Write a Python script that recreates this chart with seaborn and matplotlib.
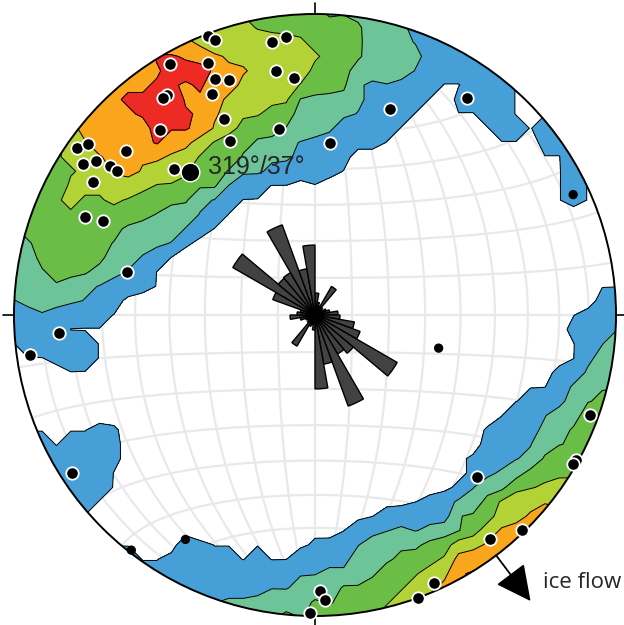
import numpy as np
import matplotlib
matplotlib.use('Agg')
import matplotlib.pyplot as plt
import seaborn as sns
from matplotlib.patches import Circle


# poles (trend / plunge, degrees), lower hemisphere
pole_trend = [339, 340, 351, 354, 330, 337, 351, 355, 337, 340, 326, 325, 335, 335, 349, 320, 334, 305, 307, 311,
              303, 305, 306, 306, 316, 301, 293, 294, 283, 20, 35, 5, 266, 262, 237, 179, 178, 181, 110, 119,
              120, 135, 136, 142, 156, 160]
pole_plunge = [1, 3, 9, 8, 4, 10, 19, 22, 16, 18, 13, 13, 20, 29, 37, 21, 36, 4, 6, 18,
               9, 12, 17, 20, 33, 15, 18, 24, 36, 28, 13, 42, 16, 5, 4, 9, 6, 1, 3, 1,
               1, 25, 1, 6, 3, 0]
small_trend = [65, 105, 210, 218]
small_plunge = [6, 55, 15, 1]

mean_trend, mean_plunge = 319, 37
ice_flow = 143

# rose diagram, 10 degree bins
rose_az = np.arange(5, 360, 10)
rose_counts = [2.2, 1.3, 1.0, 3.3, 1.0, 0.8, 1.2, 1.5, 2.3, 2.5, 4.0, 4.8, 9.5, 5.0, 4.5, 9.7, 5.0, 7.4,
               1.5, 1.0, 1.2, 3.6, 1.0, 0.8, 1.0, 1.5, 2.5, 1.8, 1.5, 4.5, 9.5, 4.8, 4.9, 9.6, 4.7, 7.0]

# kamb contours, 2 sigma interval
levels = [2, 4, 6, 8, 10, 12]
fill_colors = ['#479fd8', '#6dc499', '#6abd45', '#b2d235', '#f9a61c', '#ee2a24']

CX, CY, R = 315, 315, 301   # pixel centre / radius of the net


def project(t, p):
    r = np.sqrt(2) * np.sin(np.radians(90 - np.asarray(p, float)) / 2)
    t = np.radians(t)
    return r * np.sin(t), r * np.cos(t)


def unproject(x, y):
    r = np.hypot(x, y)
    theta = 2 * np.degrees(np.arcsin(np.clip(r / np.sqrt(2), 0, 1)))
    return np.degrees(np.arctan2(x, y)) % 360, 90 - theta


def to_vec(t, p):
    t = np.radians(t)
    p = np.radians(p)
    return np.stack([np.cos(p) * np.sin(t), np.cos(p) * np.cos(t), np.sin(p)], -1)


def kamb(t, p, gt, gp, sigma=3):
    cos = np.abs(to_vec(gt, gp) @ to_vec(t, p).T)
    n = len(t)
    rad = 1 - sigma ** 2 / (n + sigma ** 2)
    units = np.sqrt(n * rad * (1 - rad))
    return (cos >= rad).sum(-1) / units


all_t = np.array(pole_trend + small_trend, float)
all_p = np.array(pole_plunge + small_plunge, float)

sns.set_style('white')
fig = plt.figure(figsize=(6.24, 6.25), dpi=100)
ax = fig.add_axes([0, 0, 1, 1])
ax.set_xlim(-CX / R, (624 - CX) / R)
ax.set_ylim(-(625 - CY) / R, CY / R)
ax.set_aspect('equal')
ax.axis('off')

# schmidt net
s = np.radians(np.linspace(-90, 90, 181))
for d in range(-80, 90, 10):
    lam = np.radians(d)
    den = np.sqrt(1 + np.cos(s) * np.cos(lam))
    ax.plot(np.cos(s) * np.sin(lam) / den, np.sin(s) / den, color='#e9e9eb', lw=1.6, zorder=1)
    phi = np.radians(d)
    den = np.sqrt(1 + np.cos(phi) * np.cos(s))
    ax.plot(np.cos(phi) * np.sin(s) / den, np.sin(phi) / den * np.ones_like(s), color='#e9e9eb', lw=1.6, zorder=1)

gx = np.linspace(-1.05, 1.05, 45)
GX, GY = np.meshgrid(gx, gx)
gt, gp = unproject(GX.ravel(), GY.ravel())
D = kamb(all_t, all_p, gt, gp).reshape(GX.shape)

clip = Circle((0, 0), 1, transform=ax.transData)
cf = ax.contourf(GX, GY, D, levels=levels + [max(D.max(), 12) + 1], colors=fill_colors, zorder=2)
cl = ax.contour(GX, GY, D, levels=levels, colors='k', linewidths=0.7, zorder=3)
cf.set_clip_path(clip)
cl.set_clip_path(clip)

ax.add_patch(Circle((0, 0), 1, fill=False, lw=1.4, color='k', zorder=6))
for a in [0, 90, 180, 270]:
    ax.plot([np.sin(np.radians(a)), 1.035 * np.sin(np.radians(a))],
            [np.cos(np.radians(a)), 1.035 * np.cos(np.radians(a))], color='k', lw=1.2, zorder=6)

px, py = project(pole_trend, pole_plunge)
sns.scatterplot(x=px, y=py, s=80, color='k', edgecolor='w', linewidth=1.3, ax=ax, zorder=7, legend=False)
sx, sy = project(small_trend, small_plunge)
sns.scatterplot(x=sx, y=sy, s=45, color='k', edgecolor='none', ax=ax, zorder=7, legend=False)
mx, my = project(mean_trend, mean_plunge)
ax.scatter([mx], [my], s=180, color='k', edgecolor='w', linewidth=1, zorder=8)
ax.annotate(f'{mean_trend}°/{mean_plunge}°', (mx, my), xytext=(13, 3), textcoords='offset points',
            ha='left', va='center', fontsize=18, family='Liberation Sans', zorder=8)

fx0, fy0 = project(ice_flow, 0)
ax.annotate('', xy=(1.19 * fx0, 1.19 * fy0), xytext=(fx0, fy0),
            arrowprops=dict(arrowstyle='-|>,head_length=1.1,head_width=0.55', color='k', lw=1.3,
                            mutation_scale=20, shrinkA=0, shrinkB=0), zorder=8)
ax.text((543 - CX) / R, (CY - 588) / R, 'ice flow', ha='left', va='baseline', fontsize=16,
        family='Open Sans')

rose = ax.inset_axes([-0.4, -0.4, 0.8, 0.8], transform=ax.transData, projection='polar', zorder=9)
rose.set_theta_zero_location('N')
rose.set_theta_direction(-1)
rose.bar(np.radians(rose_az), rose_counts, width=np.radians(10), bottom=0, color='#424242',
         edgecolor='k', linewidth=1)
rose.set_ylim(0, 12.05)
rose.set_axis_off()

fig.savefig('out.png', dpi=100)
